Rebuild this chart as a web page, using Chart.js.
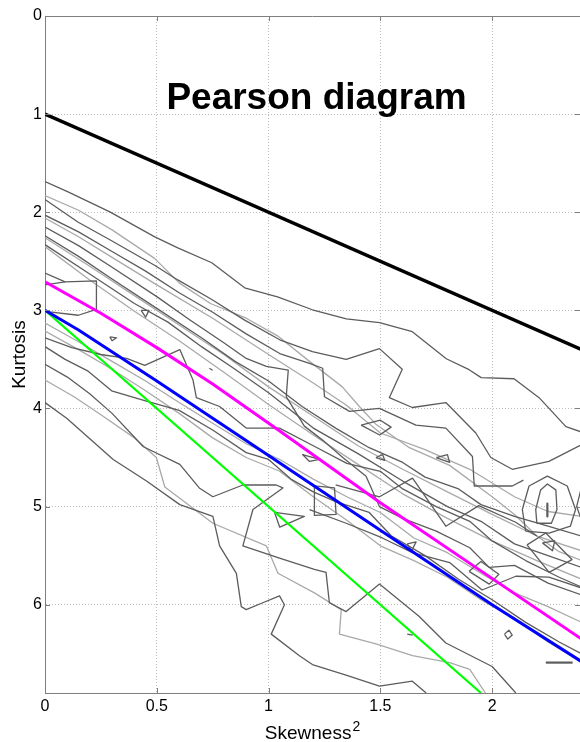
<!DOCTYPE html>
<html><head><meta charset="utf-8">
<script src="https://cdn.jsdelivr.net/npm/chart.js@4.4.1/dist/chart.umd.min.js"></script>
<style>html,body{margin:0;padding:0;background:#fff;}</style>
</head><body>
<canvas id="c" width="580" height="742"></canvas>
<script>
// ---- text ----
const titleText = 'Pearson diagram';
const xTitle = 'Skewness';
const xTitleSup = '2';
const yTitle = 'Kurtosis';
const xTickLabels = ['0', '0.5', '1', '1.5', '2'];
const yTickLabels = ['0', '1', '2', '3', '4', '5', '6'];

// ---- reference curves ----
const blackX = [0, 2.4];
const blackY = [1, 3.4];
const magentaX = [0, 0.25, 0.5, 0.75, 1.05, 1.5, 1.94, 2.4];
const magentaY = [2.71, 3.03, 3.38, 3.75, 4.23, 4.96, 5.64, 6.35];
const blueX = [0, 0.15, 0.5, 1.0, 1.5, 2.0, 2.4];
const blueY = [3.0, 3.2, 3.72, 4.48, 5.24, 6.0, 6.58];
const greenX = [0, 1.95];
const greenY = [3, 6.9];

// ---- contour lines (skewness^2, kurtosis) ----
const c01 = [[0,1.687],[0.103,1.792],[0.29,1.996],[0.491,2.251],[0.594,2.363],[0.746,2.515],[0.893,2.77],[1.04,2.862],[1.196,2.994],[1.348,3.086],[1.496,3.126],[1.643,3.218],[1.795,3.493],[1.897,3.605],[1.951,3.686],[2.098,3.697],[2.21,3.89],[2.33,4.185],[2.4,4.24]];
const c02 = [[0,1.83],[0.15,1.98],[0.3,2.18],[0.49,2.47],[0.6,2.72],[0.74,2.93],[0.9,3.08],[1.04,3.26],[1.183,3.52],[1.33,3.78],[1.406,3.98],[1.48,4.16],[1.63,4.4],[1.81,4.58],[2.0,4.9],[2.1,5.08],[2.2,5.3],[2.3,5.46],[2.4,5.55]];
const c03 = [[0,1.87],[0.147,2.1],[0.29,2.28],[0.49,2.54],[0.594,2.69],[0.746,2.89],[0.893,3.1],[1.05,3.3],[1.196,3.42],[1.347,3.5],[1.496,3.39],[1.598,3.6],[1.54,3.89],[1.643,3.99],[1.793,3.94],[1.927,4.25],[1.994,4.5],[2.09,4.62],[2.254,4.54],[2.4,4.37]];
const c04 = [[0,2.03],[0.15,2.2],[0.3,2.4],[0.45,2.6],[0.6,2.82],[0.75,3.02],[0.9,3.24],[1.05,3.44],[1.183,3.54],[1.242,3.59],[1.25,3.88],[1.362,4.03],[1.496,4.0],[1.659,4.17],[1.793,4.2],[1.912,4.49],[1.92,4.79],[2.09,4.79],[2.14,4.73]];
const c05 = [[0,2.06],[0.15,2.25],[0.3,2.46],[0.5,2.74],[0.75,3.08],[1.0,3.45],[1.2,3.74],[1.35,3.97],[1.5,4.25],[1.7,4.42],[1.9,4.62],[2.1,4.9],[2.25,5.05],[2.4,5.1]];
const c06 = [[0,2.15],[0.15,2.34],[0.3,2.56],[0.5,2.86],[0.65,3.1],[0.8,3.33],[0.9,3.49],[0.99,3.57],[1.088,3.61],[1.079,3.88],[1.16,4.18],[1.24,4.32],[1.332,4.5],[1.436,4.69],[1.496,5.0],[1.6,5.12],[1.75,5.25],[1.9,5.42],[1.987,5.62],[2.1,5.6],[2.25,5.78],[2.4,5.9]];
const c07 = [[0,2.24],[0.15,2.45],[0.3,2.68],[0.5,2.98],[0.7,3.28],[0.85,3.52],[1.0,3.72],[1.15,3.98],[1.3,4.2],[1.45,4.4],[1.6,4.55],[1.7,4.7],[1.85,4.82],[1.95,4.98],[2.1,5.1],[2.25,5.2],[2.4,5.3]];
const c08 = [[0,2.26],[0.2,2.55],[0.4,2.85],[0.6,3.15],[0.8,3.45],[1.0,3.78],[1.2,4.08],[1.4,4.38],[1.6,4.62],[1.8,4.85],[2.0,5.08],[2.2,5.3],[2.4,5.45]];
const c09 = [[0,2.33],[0.2,2.63],[0.4,2.93],[0.55,3.12],[0.7,3.37],[0.85,3.6],[1.0,3.84],[1.2,4.2],[1.4,4.46],[1.6,4.74],[1.8,5.0],[1.95,5.15],[2.1,5.38],[2.25,5.5],[2.4,5.62]];
const c10 = [[0,2.35],[0.2,2.69],[0.4,3.01],[0.6,3.31],[0.8,3.63],[1.0,3.96],[1.2,4.27],[1.4,4.57],[1.6,4.87],[1.8,5.12],[2.0,5.35],[2.2,5.55],[2.4,5.74]];
const c11 = [[0,3.94],[0.097,4.1],[0.305,4.52],[0.454,4.74],[0.603,4.98],[0.751,5.1],[0.781,5.4],[0.856,5.68],[0.878,6.02],[0.9,6.05],[0.974,5.98],[1.049,5.91],[1.071,6.0],[1.012,6.3],[1.138,6.52],[1.196,6.61],[1.35,6.72],[1.496,6.83],[1.643,6.78],[1.705,6.9]];
const c12 = [[0,3.71],[0.13,3.88],[0.26,4.08],[0.4,4.3],[0.498,4.5],[0.536,4.8],[0.751,5.17],[0.99,5.4],[1.042,5.68],[1.205,5.88],[1.325,6.05],[1.317,6.3],[1.48,6.4],[1.644,6.52],[1.81,6.59],[1.9,6.66],[1.97,6.9]];
const c13 = [[0,3.55],[0.1,3.68],[0.2,3.85],[0.3,4.05],[0.44,4.39],[0.603,4.57],[0.69,4.81],[0.751,4.9],[0.885,4.78],[1.034,4.78],[1.064,4.81],[0.93,5.03],[0.885,5.4],[1.042,5.52],[1.205,5.64],[1.257,5.67],[1.272,5.98],[1.347,6.07],[1.496,5.79],[1.674,6.12],[1.793,6.39],[2.0,6.63],[2.106,6.9]];
const c14 = [[0,3.37],[0.09,3.5],[0.193,3.62],[0.298,3.82],[0.446,3.92],[0.6,4.02],[0.75,4.22],[0.9,4.45],[1.0,4.52],[1.1,4.72],[1.2,4.85],[1.3,4.95],[1.45,5.06],[1.55,5.3],[1.7,5.5],[1.85,5.74],[2.0,5.95],[2.15,6.18],[2.3,6.38],[2.4,6.5]];
const c15 = [[0,3.21],[0.15,3.4],[0.3,3.6],[0.45,3.82],[0.6,4.05],[0.75,4.3],[0.9,4.5],[1.05,4.64],[1.2,4.9],[1.35,5.14],[1.5,5.4],[1.65,5.55],[1.8,5.72],[1.95,5.95],[2.1,6.14],[2.25,6.38],[2.4,6.58]];
const c16 = [[0,3.13],[0.15,3.32],[0.3,3.52],[0.45,3.72],[0.6,3.94],[0.75,4.15],[0.9,4.36],[1.05,4.52],[1.2,4.72],[1.35,4.9],[1.5,5.06],[1.65,5.32],[1.8,5.47],[1.95,5.68],[2.1,5.88],[2.25,6.02],[2.4,6.18]];
const c17 = [[0,3.28],[0.12,3.38],[0.25,3.45],[0.365,3.49],[0.446,3.56],[0.603,3.4],[0.662,3.71],[0.677,3.89],[0.781,3.98],[0.9,4.2],[1.049,4.2],[1.2,4.38],[1.35,4.56],[1.5,4.64],[1.6,4.82],[1.75,5.0],[1.9,5.15],[2.0,5.35],[2.15,5.55],[2.3,5.72],[2.4,5.82]];
const c18 = [[0,2.62],[0.09,2.71],[0.23,2.7],[0.23,2.99],[0.149,3.05],[0,3.01]];
const c19 = [[0.09,2.71],[0,2.74]];
const c20 = [[1.183,5.03],[1.347,5.17],[1.509,5.32],[1.643,5.47],[1.81,5.57],[1.955,5.85],[2.106,5.71],[2.254,5.72],[2.4,5.83]];
const c21 = [[1.3,4.78],[1.496,4.9],[1.644,4.71],[1.793,5.2],[1.94,4.99],[2.105,5.16],[2.2,5.3]];
const c22 = [[1.205,4.79],[1.295,4.81],[1.302,5.08],[1.205,5.09],[1.205,4.79]];
const c23 = [[1.414,4.17],[1.5,4.12],[1.548,4.19],[1.497,4.27],[1.414,4.17]];
const c24 = [[1.48,4.5],[1.51,4.47],[1.52,4.53],[1.48,4.5]];
const c25 = [[1.75,4.5],[1.8,4.47],[1.81,4.55],[1.75,4.5]];
const c26 = [[0.43,3.0],[0.465,3.0],[0.45,3.07],[0.43,3.0]];
const c27 = [[0.29,3.27],[0.32,3.28],[0.3,3.31],[0.29,3.27]];
const c28 = [[1.897,5.66],[1.95,5.56],[2.03,5.69],[1.987,5.79],[1.897,5.66]];
const c29 = [[1.62,5.38],[1.66,5.36],[1.64,5.45],[1.62,5.38]];
const c30 = [[2.055,6.3],[2.075,6.26],[2.09,6.31],[2.07,6.35],[2.055,6.3]];
const c31 = [[2.15,5.25],[2.135,5.03],[2.165,4.79],[2.247,4.69],[2.336,4.79],[2.373,5.03],[2.35,5.2],[2.255,5.27],[2.15,5.25]];
const c32 = [[2.2,5.17],[2.195,5.03],[2.217,4.83],[2.247,4.77],[2.285,4.83],[2.29,5.03],[2.265,5.17],[2.2,5.17]];
const c33 = [[2.4,4.8],[2.378,5.0],[2.4,5.14]];
const c34 = [[2.156,5.39],[2.24,5.27],[2.357,5.54],[2.255,5.67],[2.156,5.39]];
const c35 = [[2.225,5.37],[2.28,5.35],[2.27,5.45],[2.225,5.37]];
const c36 = [[1.027,5.06],[1.16,5.1],[1.05,5.21],[1.027,5.06]];
const c37 = [[1.152,4.47],[1.228,4.52],[1.183,4.54],[1.152,4.47]];
const c38 = [[0.735,3.59],[0.75,3.61]];
const c39 = [[1.62,6.3],[1.645,6.31]];
const c40 = [[2.247,4.97],[2.247,5.1]];
const c41 = [[2.24,6.59],[2.36,6.59]];

const darkContours = [c01, c03, c04, c06, c07, c09, c11, c13, c14, c17, c18, c19, c20, c21, c22, c23, c24, c25, c26, c27, c28, c29, c30, c31, c32, c33, c34, c35, c36, c37, c38, c39];
const lightContours = [c02, c05, c08, c10, c12, c15, c16];
const thickDark = [c40, c41];

const FONT = '"Liberation Sans", Arial, Helvetica, sans-serif';
const toXY = a => a.map(p => ({x: p[0], y: p[1]}));
const zipXY = (xs, ys) => xs.map((x, i) => ({x, y: ys[i]}));
const lineDs = (data, color, width) => ({data, borderColor: color, borderWidth: width, showLine: true, pointRadius: 0, fill: false, tension: 0, clip: 0, borderJoinStyle: 'round'});

const datasets = [
  lineDs(zipXY(blackX, blackY), '#000000', 3.4),
  lineDs(zipXY(blueX, blueY), '#0000ff', 3),
  lineDs(zipXY(magentaX, magentaY), '#ff00ff', 3),
  lineDs(zipXY(greenX, greenY), '#00ff00', 2.2),
];
thickDark.forEach(c => datasets.push(lineDs(toXY(c), '#5c5c5c', 2.2)));
darkContours.forEach(c => datasets.push(lineDs(toXY(c), '#5c5c5c', 1.3)));
lightContours.forEach(c => datasets.push(lineDs(toXY(c), '#a9a9a9', 1.3)));

const decor = {
  id: 'decor',
  afterDraw(chart) {
    const {ctx, chartArea: a, scales: {x, y}} = chart;
    ctx.save();
    ctx.strokeStyle = '#7f7f7f';
    ctx.lineWidth = 1;
    ctx.beginPath();
    ctx.moveTo(a.left, a.top + 0.5); ctx.lineTo(a.right, a.top + 0.5);
    x.ticks.forEach(t => {
      const px = Math.round(x.getPixelForValue(t.value)) + 0.5;
      ctx.moveTo(px, a.bottom); ctx.lineTo(px, a.bottom - 5);
      ctx.moveTo(px, a.top); ctx.lineTo(px, a.top + 5);
    });
    y.ticks.forEach(t => {
      const py = Math.round(y.getPixelForValue(t.value)) + 0.5;
      ctx.moveTo(a.left, py); ctx.lineTo(a.left + 5, py);
      ctx.moveTo(a.right, py); ctx.lineTo(a.right - 5, py);
    });
    ctx.stroke();
    // title
    ctx.fillStyle = '#000';
    ctx.font = 'bold 37px ' + FONT;
    ctx.textAlign = 'center';
    ctx.textBaseline = 'alphabetic';
    ctx.fillText(titleText, (a.left + a.right) / 2 + 4, a.top + 93);
    // x title with superscript
    ctx.font = '19px ' + FONT;
    const w1 = ctx.measureText(xTitle).width;
    ctx.font = '14px ' + FONT;
    const w2 = ctx.measureText(xTitleSup).width;
    const cx = (a.left + a.right) / 2;
    const sx = cx - (w1 + w2 + 1) / 2;
    ctx.textAlign = 'left';
    ctx.font = '19px ' + FONT;
    ctx.fillText(xTitle, sx, 739);
    ctx.font = '14px ' + FONT;
    ctx.fillText(xTitleSup, sx + w1 + 1, 731);
    // y title
    ctx.translate(25, (a.top + a.bottom) / 2);
    ctx.rotate(-Math.PI / 2);
    ctx.textAlign = 'center';
    ctx.font = '19px ' + FONT;
    ctx.fillText(yTitle, 0, 0);
    ctx.restore();
  }
};

new Chart(document.getElementById('c'), {
  type: 'scatter',
  data: {datasets},
  options: {
    responsive: false,
    animation: false,
    devicePixelRatio: 1,
    layout: {padding: {top: 16, right: 0, left: 0, bottom: 0}},
    plugins: {legend: {display: false}, tooltip: {enabled: false}, title: {display: false}},
    scales: {
      x: {
        type: 'linear', min: 0, max: 2.393,
        afterFit(s) { s.height = 49; },
        ticks: {stepSize: 0.5, includeBounds: false, autoSkip: false, maxRotation: 0, padding: 4, color: '#000',
          font: {family: FONT, size: 16},
          callback: v => xTickLabels[Math.round(v / 0.5)]},
        grid: {color: '#bcbcbc', lineWidth: 1, drawTicks: false},
        border: {color: '#7f7f7f', width: 1, dash: [1, 2]}
      },
      y: {
        type: 'linear', reverse: true, min: 0, max: 6.9,
        afterFit(s) { s.width = 45; },
        ticks: {stepSize: 1, includeBounds: false, autoSkip: false, padding: 3, color: '#000',
          font: {family: FONT, size: 16},
          callback: v => yTickLabels[Math.round(v)]},
        grid: {color: '#bcbcbc', lineWidth: 1, drawTicks: false},
        border: {color: '#7f7f7f', width: 1, dash: [1, 2]}
      }
    }
  },
  plugins: [decor]
});
</script>
</body></html>
